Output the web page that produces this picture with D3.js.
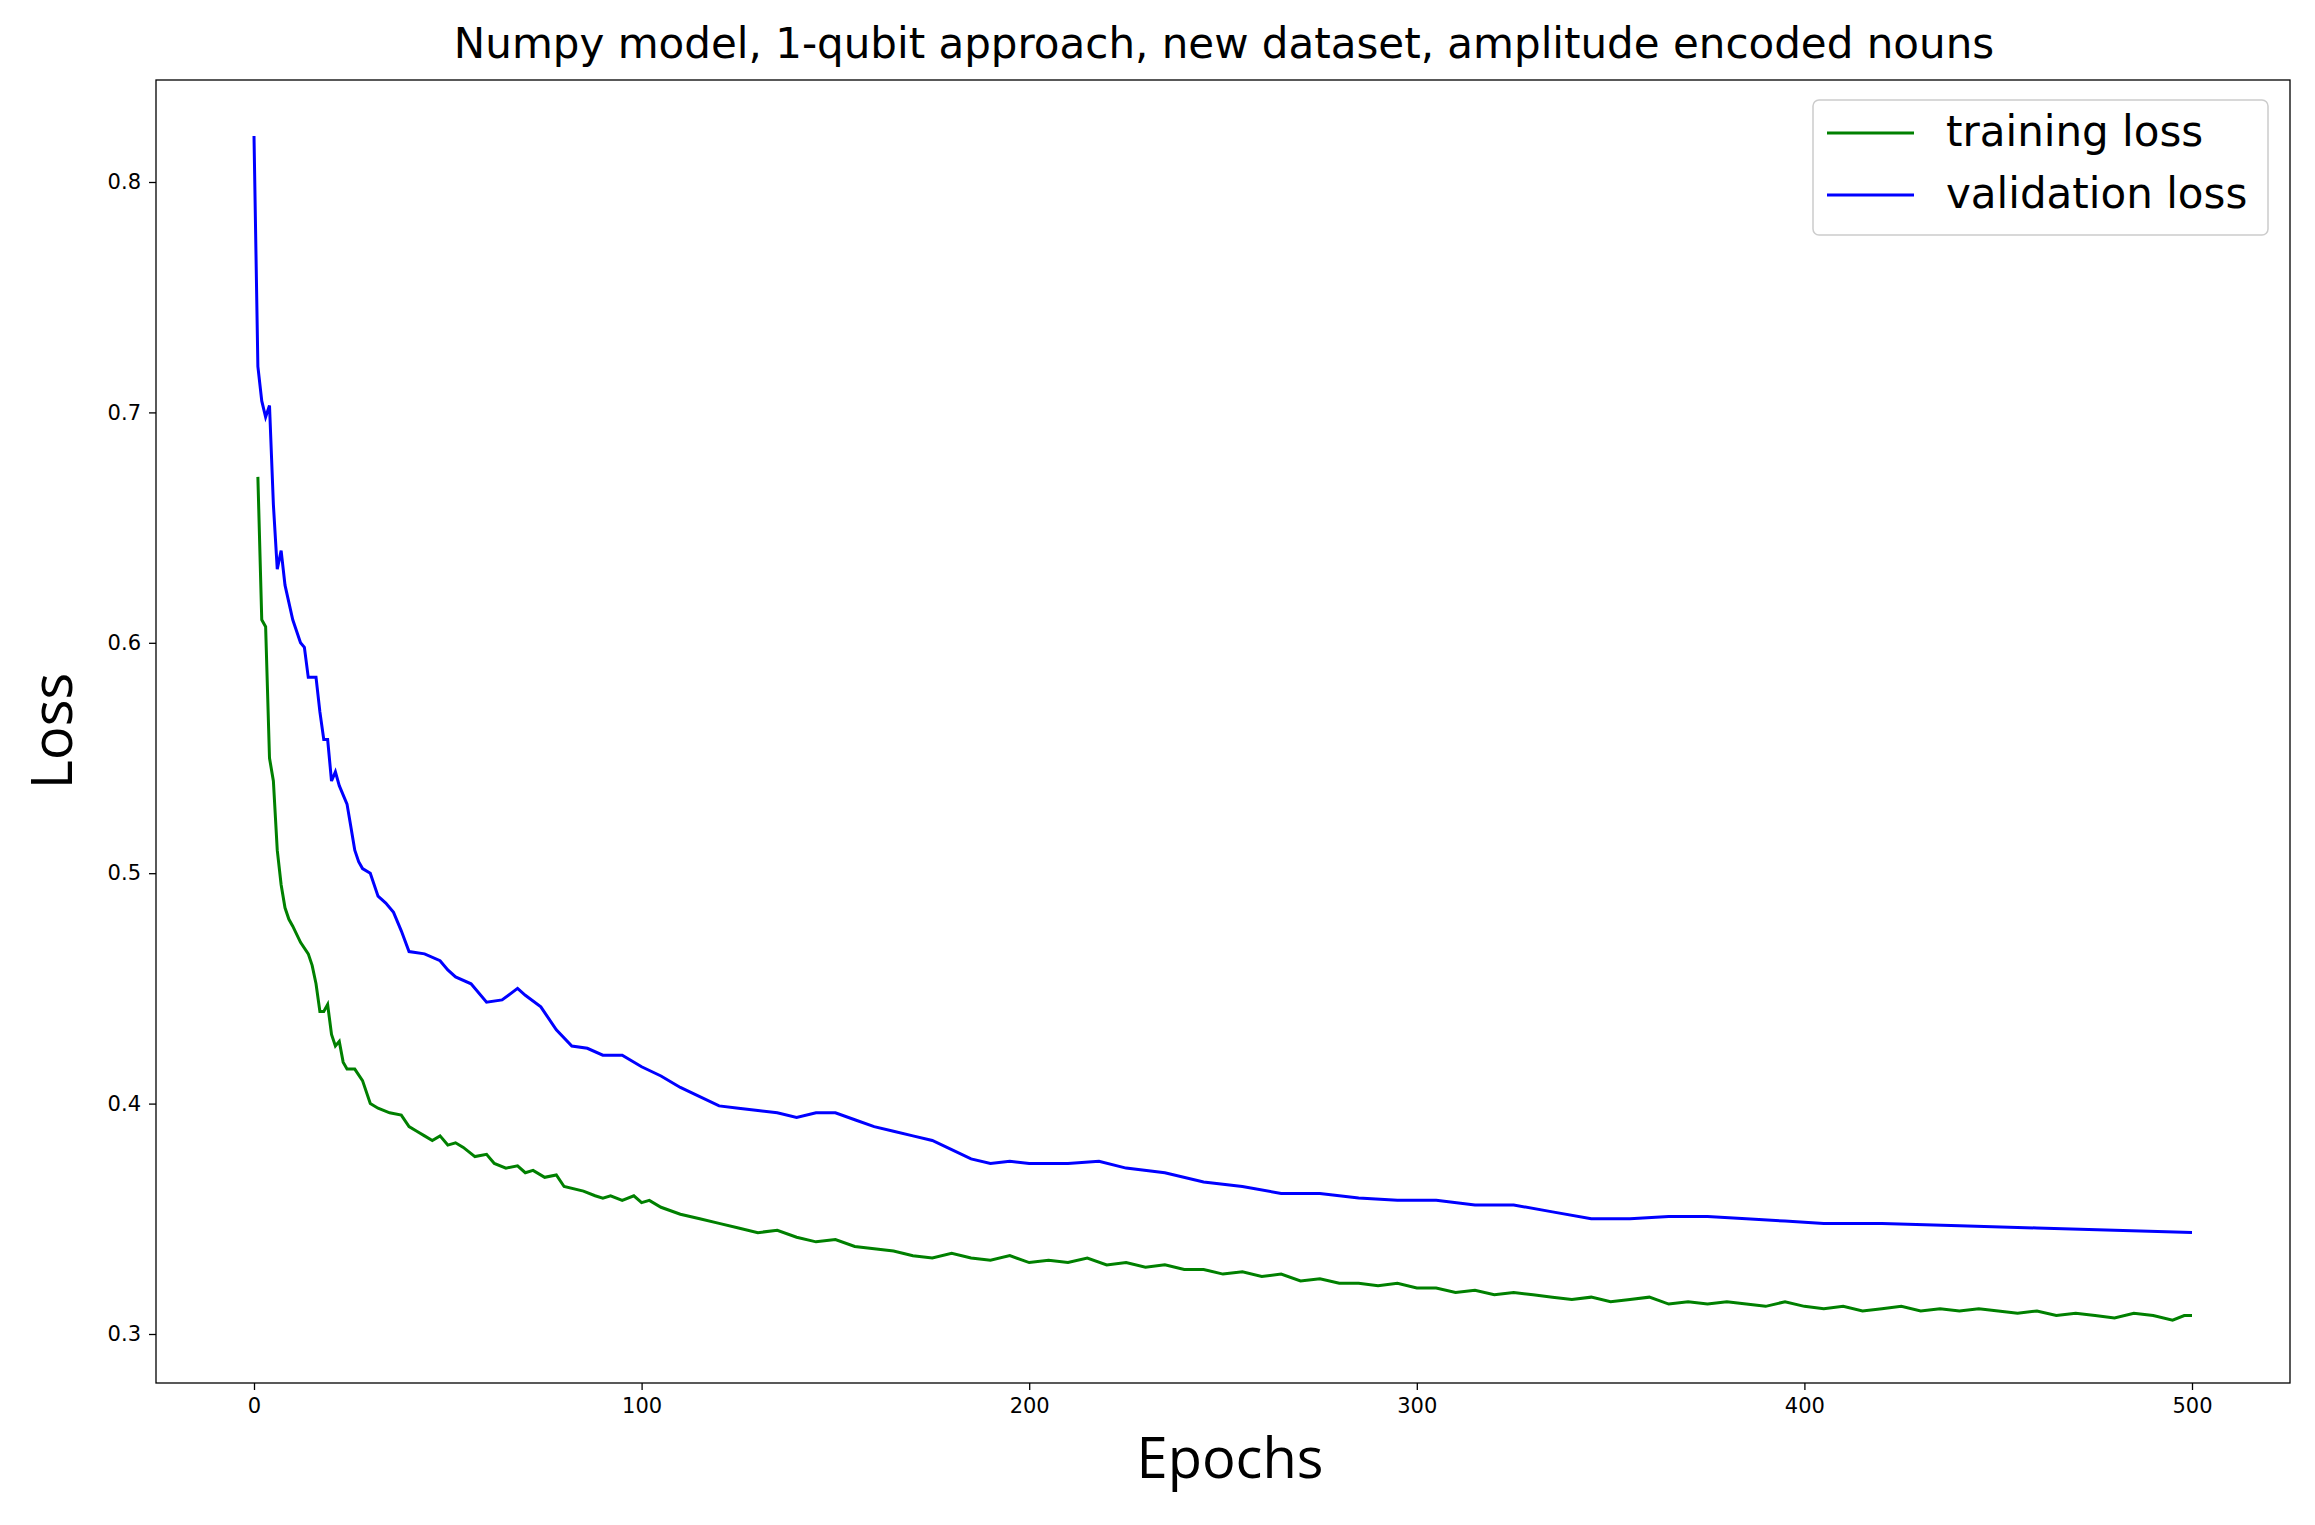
<!DOCTYPE html>
<html><head><meta charset="utf-8">
<script src="https://cdn.jsdelivr.net/npm/d3@7"></script>
<style>body{margin:0;background:#fff}</style></head>
<body><svg id="c" width="2315" height="1525"></svg>
<script>
const valEpochs=[0,1,2,3,4,5,6,7,8,10,12,13,14,16,17,18,19,20,21,22,24,25,26,27,28,30,32,34,36,38,40,44,48,50,52,56,60,64,68,70,74,78,82,86,90,95,100,105,110,115,120,125,130,135,140,145,150,155,160,165,170,175,180,185,190,195,200,210,218,225,235,245,255,265,275,285,295,305,315,325,335,345,355,365,375,385,395,405,420,440,460,480,500];
const valLoss=[0.82,0.72,0.705,0.698,0.703,0.66,0.632,0.64,0.625,0.61,0.60,0.598,0.585,0.585,0.57,0.558,0.558,0.54,0.544,0.538,0.53,0.52,0.51,0.505,0.502,0.50,0.49,0.487,0.483,0.475,0.466,0.465,0.462,0.458,0.455,0.452,0.444,0.445,0.45,0.447,0.442,0.432,0.425,0.424,0.421,0.421,0.416,0.412,0.407,0.403,0.399,0.398,0.397,0.396,0.394,0.396,0.396,0.393,0.39,0.388,0.386,0.384,0.38,0.376,0.374,0.375,0.374,0.374,0.375,0.372,0.37,0.366,0.364,0.361,0.361,0.359,0.358,0.358,0.356,0.356,0.353,0.35,0.35,0.351,0.351,0.35,0.349,0.348,0.348,0.347,0.346,0.345,0.344];
const trEpochs=[1,2,3,4,5,6,7,8,9,10,12,14,15,16,17,18,19,20,21,22,23,24,26,28,30,32,35,38,40,42,44,46,48,50,52,54,57,60,62,65,68,70,72,75,78,80,85,88,90,92,95,98,100,102,105,110,115,120,125,130,135,140,145,150,155,160,165,170,175,180,185,190,195,200,205,210,215,220,225,230,235,240,245,250,255,260,265,270,275,280,285,290,295,300,305,310,315,320,325,330,335,340,345,350,355,360,365,370,375,380,385,390,395,400,405,410,415,420,425,430,435,440,445,450,455,460,465,470,475,480,485,490,495,498,500];
const trLoss=[0.672,0.61,0.607,0.55,0.54,0.51,0.495,0.485,0.48,0.477,0.47,0.465,0.46,0.452,0.44,0.44,0.443,0.43,0.425,0.427,0.418,0.415,0.415,0.41,0.40,0.398,0.396,0.395,0.39,0.388,0.386,0.384,0.386,0.382,0.383,0.381,0.377,0.378,0.374,0.372,0.373,0.37,0.371,0.368,0.369,0.364,0.362,0.36,0.359,0.36,0.358,0.36,0.357,0.358,0.355,0.352,0.35,0.348,0.346,0.344,0.345,0.342,0.34,0.341,0.338,0.337,0.336,0.334,0.333,0.335,0.333,0.332,0.334,0.331,0.332,0.331,0.333,0.33,0.331,0.329,0.33,0.328,0.328,0.326,0.327,0.325,0.326,0.323,0.324,0.322,0.322,0.321,0.322,0.32,0.32,0.318,0.319,0.317,0.318,0.317,0.316,0.315,0.316,0.314,0.315,0.316,0.313,0.314,0.313,0.314,0.313,0.312,0.314,0.312,0.311,0.312,0.31,0.311,0.312,0.31,0.311,0.31,0.311,0.31,0.309,0.31,0.308,0.309,0.308,0.307,0.309,0.308,0.306,0.308,0.308];
const xTicks=[0,100,200,300,400,500];
const yTicks=[0.3,0.4,0.5,0.6,0.7,0.8];

const svg=d3.select("#c");
const L=156,R=2290,T=80,B=1383;
const x=d3.scaleLinear().domain([0,500]).range([254,2192]);
const y=d3.scaleLinear().domain([0.3,0.8]).range([1334,182]);
const xa=svg.append("g").attr("transform",`translate(0,${B})`).call(d3.axisBottom(x).tickValues(xTicks).tickFormat(d3.format("d")).tickSize(7).tickPadding(8));
const ya=svg.append("g").attr("transform",`translate(${L},0)`).call(d3.axisLeft(y).tickValues(yTicks).tickFormat(d3.format(".1f")).tickSize(7).tickPadding(8));
[xa,ya].forEach(a=>{a.select(".domain").remove();a.selectAll("text").attr("font-family","DejaVu Sans").attr("font-size",21).attr("fill","#000");a.selectAll("line").attr("stroke","#000").attr("stroke-width",1.3);});
svg.append("rect").attr("x",L).attr("y",T).attr("width",R-L).attr("height",B-T).attr("fill","none").attr("stroke","#000").attr("stroke-width",1.3);
const line=d3.line().x(d=>x(d[0])).y(d=>y(d[1]));
svg.append("path").datum(trEpochs.map((e,i)=>[e,trLoss[i]])).attr("d",line).attr("fill","none").attr("stroke","green").attr("stroke-width",3);
svg.append("path").datum(valEpochs.map((e,i)=>[e,valLoss[i]])).attr("d",line).attr("fill","none").attr("stroke","blue").attr("stroke-width",3);
svg.append("text").attr("x",1224).attr("y",58).attr("text-anchor","middle").attr("font-family","DejaVu Sans").attr("font-size",42).text("Numpy model, 1-qubit approach, new dataset, amplitude encoded nouns");
svg.append("text").attr("x",1230).attr("y",1478).attr("text-anchor","middle").attr("font-family","Open Sans").attr("font-size",56).text("Epochs");
svg.append("text").attr("transform","translate(72,731) rotate(-90)").attr("text-anchor","middle").attr("font-family","Open Sans").attr("font-size",56).text("Loss");
const lg=svg.append("g");
lg.append("rect").attr("x",1813).attr("y",100).attr("width",455).attr("height",135).attr("rx",6).attr("fill","#fff").attr("stroke","#ccc").attr("stroke-width",1.5);
[["training loss","green",133],["validation loss","blue",195]].forEach(([t,c,yy])=>{
  lg.append("line").attr("x1",1827).attr("x2",1914).attr("y1",yy).attr("y2",yy).attr("stroke",c).attr("stroke-width",3);
  lg.append("text").attr("x",1946).attr("y",yy+13).attr("font-family","DejaVu Sans").attr("font-size",42).text(t);
});
</script></body></html>
